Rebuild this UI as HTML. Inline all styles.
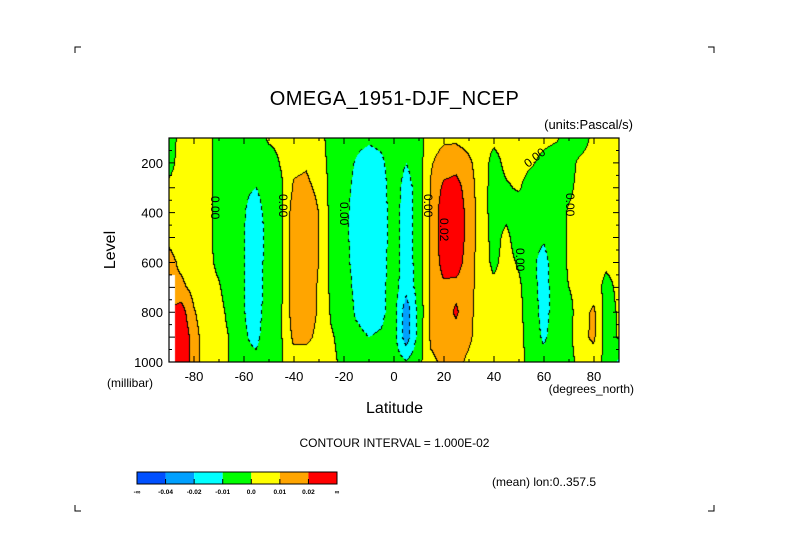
<!DOCTYPE html>
<html><head><meta charset="utf-8">
<style>
body{margin:0;background:#fff;}
#wrap{position:relative;width:789px;height:558px;overflow:hidden;background:#fff;font-family:"Liberation Sans",sans-serif;color:#000;}
.t{position:absolute;white-space:nowrap;}
canvas{position:absolute;left:169px;top:138px;}
svg{position:absolute;left:0;top:0;}
</style></head><body>
<div id="wrap">
<canvas id="cv" width="450" height="224"></canvas>
<svg id="ov" width="789" height="558"></svg>
<div class="t" style="left:0;width:789px;text-align:center;top:88px;font-size:20px;letter-spacing:0.5px">OMEGA_1951-DJF_NCEP</div>
<div class="t" style="right:156px;top:117px;font-size:13px">(units:Pascal/s)</div>
<div class="t" style="left:92px;top:241px;font-size:16px;transform:rotate(-90deg)">Level</div>
<div class="t" style="left:107px;top:376px;font-size:12px">(millibar)</div>
<div class="t" style="right:155px;top:382px;font-size:12px">(degrees_north)</div>
<div class="t" style="left:0;width:789px;text-align:center;top:400px;font-size:16px">Latitude</div>
<div class="t" style="left:0;width:789px;text-align:center;top:436px;font-size:12px;padding-right:3px">CONTOUR INTERVAL = 1.000E-02</div>
<div class="t" style="left:492px;top:475px;font-size:12px">(mean) lon:0..357.5</div>
</div>
<script>
const lats=[-90,-85,-80,-75,-70,-65,-60,-55,-50,-45,-40,-35,-30,-25,-20,-15,-10,-5,0,5,10,15,20,25,30,35,40,45,50,55,60,65,70,75,80,85,90];
const levels=[100,200,300,400,500,600,700,800,900,1000];
// values in units of 0.01 Pa/s, one row per latitude, columns = levels
const omega=[
[-0.5,-0.5,0.3,0.5,0.8,1.3,NaN,NaN,NaN,NaN],
[0.3,0.5,0.5,0.5,0.6,0.8,1.2,2.5,3,3],
[0.5,0.5,0.5,0.5,0.5,0.5,0.7,1.1,1.5,1.5],
[0.3,0.3,0.3,0.3,0.3,0.3,0.3,0.4,0.4,0.4],
[-0.3,-0.3,-0.3,-0.3,-0.3,-0.2,0.1,0.3,0.4,0.4],
[-0.6,-0.6,-0.6,-0.6,-0.6,-0.6,-0.5,-0.3,-0.1,-0.1],
[-0.7,-0.8,-0.9,-0.95,-0.95,-0.95,-0.95,-0.95,-0.9,-0.8],
[-0.8,-0.9,-1.0,-1.3,-1.5,-1.5,-1.5,-1.4,-1.2,-0.8],
[0.2,-0.6,-0.7,-0.7,-0.7,-0.6,-0.6,-0.5,-0.5,-0.4],
[0.3,0.1,-0.2,-0.2,-0.2,-0.2,-0.2,-0.1,-0.1,-0.1],
[0.5,0.8,1.1,1.5,1.6,1.6,1.6,1.5,1.2,0.6],
[0.5,0.9,1.2,1.6,1.7,1.7,1.6,1.5,1.2,0.6],
[0.3,0.5,0.8,1.0,1.0,1.0,0.9,0.9,0.8,0.5],
[-0.3,-0.3,-0.3,-0.3,-0.3,-0.2,-0.2,-0.1,0.1,0.2],
[-0.4,-0.5,-0.6,-0.7,-0.7,-0.7,-0.6,-0.5,-0.3,-0.2],
[-0.7,-1.1,-1.3,-1.4,-1.4,-1.3,-1.2,-1.1,-0.8,-0.5],
[-0.8,-1.5,-1.8,-1.8,-1.8,-1.7,-1.6,-1.4,-1.0,-0.6],
[-0.7,-1.2,-1.4,-1.5,-1.5,-1.4,-1.3,-1.2,-0.9,-0.5],
[-0.4,-0.5,-0.5,-0.5,-0.5,-0.5,-0.5,-0.6,-0.6,-0.5],
[-0.8,-1.0,-1.4,-1.5,-1.5,-1.5,-1.7,-2.6,-2.6,-0.9],
[-0.3,-0.5,-0.6,-0.6,-0.6,-0.6,-0.6,-0.7,-0.6,-0.3],
[0.5,0.9,1.1,1.2,1.2,1.2,1.2,1.2,1.2,0.8],
[0.8,1.5,2.2,2.6,2.6,2.4,1.8,1.5,1.5,1.2],
[0.8,1.6,2.4,2.8,2.8,2.5,1.7,2.15,1.6,1.3],
[0.6,1.2,1.5,1.6,1.6,1.5,1.4,1.3,1.2,0.8],
[0.3,0.5,0.5,0.5,0.5,0.5,0.5,0.5,0.5,0.4],
[0.2,-0.3,-0.4,-0.4,-0.3,-0.2,0.2,0.3,0.3,0.2],
[0.3,0.2,-0.1,-0.2,0.2,0.3,0.4,0.4,0.4,0.3],
[0.3,0.3,0.1,-0.5,-0.4,-0.1,0.2,0.2,0.2,0.2],
[0.3,0.1,-0.4,-0.6,-0.7,-0.8,-0.6,-0.4,-0.3,-0.2],
[0.2,-0.2,-0.5,-0.7,-0.9,-1.3,-1.4,-1.4,-1.2,-0.6],
[0.1,-0.4,-0.5,-0.5,-0.5,-0.5,-0.5,-0.5,-0.4,-0.3],
[-0.3,-0.3,-0.2,0.1,0.1,0.1,0.0,-0.3,-0.3,-0.3],
[-0.4,0.2,0.3,0.3,0.3,0.3,0.3,0.5,0.7,0.3],
[0.2,0.3,0.4,0.4,0.4,0.4,0.5,1.2,1.2,0.5],
[0.3,0.3,0.3,0.3,0.3,0.2,-0.3,-0.4,-0.4,-0.3],
[0.3,0.3,0.3,0.3,0.3,0.3,0.2,0.1,0.1,-1.2]
];
const bounds=[-4,-2,-1,0,1,2];
const colors=[[0,80,255],[0,160,255],[0,255,255],[0,255,0],[255,255,0],[255,165,0],[255,0,0]];
const xTicks=[-80,-60,-40,-20,0,20,40,60,80];
const yTicks=[200,400,600,800,1000];
const cbLabels=['-∞','-0.04','-0.02','-0.01','0.0','0.01','0.02','∞'];

const X0=169,Y0=138,W=450,H=224;
const xs=lat=>X0+(lat+90)/180*W;
const ys=p=>Y0+(p-100)/900*H;

function sample(lat,p){
  let fi=(lat-lats[0])/(lats[1]-lats[0]), fj=(p-levels[0])/(levels[1]-levels[0]);
  fi=Math.max(0,Math.min(lats.length-1.0001,fi)); fj=Math.max(0,Math.min(levels.length-1.0001,fj));
  const i=Math.floor(fi),j=Math.floor(fj),a=fi-i,b=fj-j;
  const ni=a<0.5?i:i+1,nj=b<0.5?j:j+1;
  if(isNaN(omega[ni][nj])) return NaN;
  let c=[omega[i][j],omega[i+1][j],omega[i][j+1],omega[i+1][j+1]];
  const ok=c.filter(v=>!isNaN(v)); const m=ok.reduce((s,v)=>s+v,0)/ok.length;
  c=c.map(v=>isNaN(v)?m:v);
  return c[0]*(1-a)*(1-b)+c[1]*a*(1-b)+c[2]*(1-a)*b+c[3]*a*b;
}
function cls(v){if(isNaN(v))return -1;let c=0;for(const bd of bounds)if(v>=bd)c++;return c;}

const cv=document.getElementById('cv'),ctx=cv.getContext('2d');
const img=ctx.createImageData(W,H);const K=new Int8Array(W*H);
for(let y=0;y<H;y++)for(let x=0;x<W;x++){
  const lat=-90+(x+0.5)/W*180,p=100+(y+0.5)/H*900;
  K[y*W+x]=cls(sample(lat,p));
}
for(let y=0;y<H;y++)for(let x=0;x<W;x++){
  const k=K[y*W+x],o=(y*W+x)*4;
  let col=k<0?[255,255,255]:colors[k];
  let edge=false,neg=false;
  const nb=[x+1<W?K[y*W+x+1]:k,y+1<H?K[(y+1)*W+x]:k];
  for(const n of nb){if(n!==k&&n>=0&&k>=0){edge=true;const bd=bounds[Math.min(n,k)];if(bd<0)neg=true;}}
  if(edge&&(!neg||((x+y)>>2)%2===0))col=[0,0,0];
  img.data[o]=col[0];img.data[o+1]=col[1];img.data[o+2]=col[2];img.data[o+3]=255;
}
ctx.putImageData(img,0,0);

const NS='http://www.w3.org/2000/svg',ov=document.getElementById('ov');
function mk(tag,at,txt){const e=document.createElementNS(NS,tag);for(const k in at)e.setAttribute(k,at[k]);if(txt!==undefined)e.textContent=txt;ov.appendChild(e);return e;}
let e=mk('rect',{x:X0,y:Y0,width:W,height:H,fill:'none',stroke:'#000','stroke-width':1.2});


for(let lat=-90;lat<=90;lat+=10){
  const x=xs(lat),L=(lat%20===0)?6:3;
  e=mk('path',{d:`M${x},${Y0+H}v${-L}M${x},${Y0}v${L}`,stroke:'#000','stroke-width':1});
  
  
}
for(let p=100;p<=1000;p+=50){
  const y=ys(p),L=(p%100===0)?6:3;
  e=mk('path',{d:`M${X0},${y}h${L}M${X0+W},${y}h${-L}`,stroke:'#000','stroke-width':1});
  
  
}
xTicks.forEach(v=>{
  e=mk('text',{x:xs(v),y:381,'text-anchor':'middle','font-size':13,'font-family':'Liberation Sans, sans-serif'},String(v));
  
  
});
yTicks.forEach(v=>{
  e=mk('text',{x:163,y:ys(v)+5,'text-anchor':'end','font-size':13,'font-family':'Liberation Sans, sans-serif'},String(v));
  
  
});
[[214,196,'0.00'],[282,194,'0.00'],[343,202,'0.00'],[427,194,'0.00'],[443,218,'0.02'],[519,248,'0.00'],[569,193,'0.00']].forEach(l=>{
  e=mk('text',{x:l[0],y:l[1],'font-size':12,'font-family':'Liberation Sans, sans-serif',transform:`rotate(90 ${l[0]} ${l[1]})`,'dominant-baseline':'middle'},l[2]);
  
  
});
e=mk('text',{x:528,y:168,'font-size':12,'font-family':'Liberation Sans, sans-serif',transform:'rotate(-38 528 168)'},'0.00');


const cbX=137,cbY=472,cbW=200/7,cbH=12;
colors.forEach((c,i)=>{
  e=mk('rect',{x:cbX+i*cbW,y:cbY,width:cbW,height:cbH,fill:`rgb(${c})`});
  
  
});
e=mk('rect',{x:cbX,y:cbY,width:200,height:cbH,fill:'none',stroke:'#000','stroke-width':1});


cbLabels.forEach((t,i)=>{
  const x=cbX+i*cbW;
  if(i>0&&i<7){e=mk('path',{d:`M${x},${cbY+cbH}v-5`,stroke:'#000'});
  
  }
  e=mk('text',{x:x,y:494,'text-anchor':'middle','font-size':6.5,'font-weight':'bold','font-family':'Liberation Sans, sans-serif'},t);
  
  
});
[[75,47,1,1],[714,47,-1,1],[75,511,1,-1],[714,511,-1,-1]].forEach(c=>{
  e=mk('path',{d:`M${c[0]},${c[1]+6*c[3]}V${c[1]}H${c[0]+6*c[2]}`,fill:'none',stroke:'#000','stroke-width':1});
  
  
});
</script>
</body></html>
